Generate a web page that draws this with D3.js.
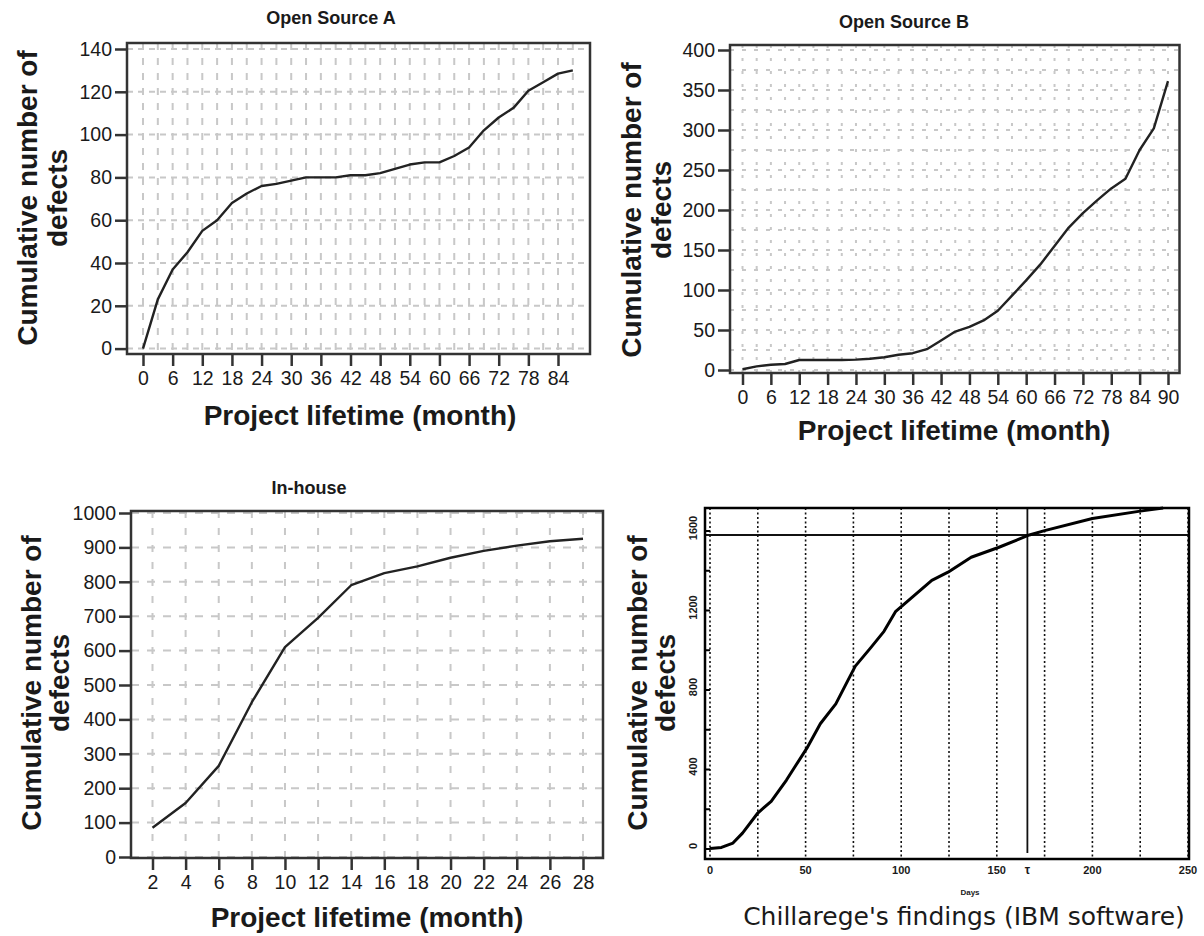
<!DOCTYPE html>
<html lang="en">
<head>
<meta charset="UTF-8">
<title>Cumulative number of defects</title>
<style>
  body { margin: 0; background: #fff; }
  svg text { font-family: "Liberation Sans", Arial, sans-serif; fill: #1a1a1a; }
  .tick text { font-size: 19.5px; }
  .tick line { stroke: #333; stroke-width: 2.5; }
  .grid { stroke: #c8c8c8; stroke-width: 2; fill: none; }
  .frame { fill: none; stroke: #333; stroke-width: 2.5; }
  .curve { fill: none; stroke: #222; stroke-width: 2.4; stroke-linejoin: round; }
  .ttl { font-weight: bold; font-size: 18px; }
  .axttl { font-weight: bold; font-size: 28px; }
</style>
</head>
<body>
<svg id="chart" width="1204" height="936"></svg>
<script src="https://d3js.org/d3.v7.min.js"></script>
<script>
// Open Source A
const monthsA = [0,3,6,9,12,15,18,21,24,27,30,33,36,39,42,45,48,51,54,57,60,63,66,69,72,75,78,81,84,87];
const defectsA = [0,23,37,45,55,60,68,72.5,76,77,78.5,80,80,80,81,81,82,84,86,87,87,90,94,102,108,112.5,120.5,124.5,128.5,130];
const xTicksA = [0,6,12,18,24,30,36,42,48,54,60,66,72,78,84];
const yTicksA = [0,20,40,60,80,100,120,140];

// Open Source B
const monthsB = [0,3,6,9,12,15,18,21,24,27,30,33,36,39,42,45,48,51,54,57,60,63,66,69,72,75,78,81,84,87,90];
const defectsB = [1,4.5,6.5,7.5,12.5,12.5,12.5,12.5,13,14,16,19,21,26,37,48,54,62,74,93,112,132,155,178,196,212,227,239,275,302,361];
const xTicksB = [0,6,12,18,24,30,36,42,48,54,60,66,72,78,84,90];
const yTicksB = [0,50,100,150,200,250,300,350,400];

// In-house
const monthsC = [2,4,6,8,10,12,14,16,18,20,22,24,26,28];
const defectsC = [85,157,265,450,610,695,790,825,845,870,890,905,918,925];
const xTicksC = [2,4,6,8,10,12,14,16,18,20,22,24,26,28];
const yTicksC = [0,100,200,300,400,500,600,700,800,900,1000];

// Chillarege (IBM software)
const daysD = [0,6,12,17,25,32,40,44.5,50.6,57.7,65.8,72,76,84,91,97,104,116,124.5,136.6,150.8,167,175,200,225,237];
const defectsD = [2,8,30,80,181,240,347,415,506,630,730,846,920,1012,1095,1194,1252,1352,1393,1468,1517,1580,1602,1663,1700,1716];
const xTicksD = [0,50,100,150,200,250];
const xGridD = [0,25,50,75,100,125,150,175,200,225,250];
const yTicksD = [0,400,800,1200,1600];
const yMinorD = [200,600,1000,1400];
const markDayD = 166;
const asymptoteD = 1580;

const svg = d3.select("#chart");

function yTitle(x1, x2, cy, lines) {
  [x1, x2].forEach((x, i) => {
    svg.append("text")
      .attr("transform", `translate(${x},${cy}) rotate(-90)`)
      .attr("text-anchor", "middle")
      .attr("dy", "0.35em")
      .attr("font-weight", "bold")
      .attr("font-size", 28)
      .text(lines[i]);
  });
}

function panel(o) {
  const [l, t, r, b] = o.frame;
  const x = d3.scaleLinear().domain(o.xDom).range(o.xRange);
  const y = d3.scaleLinear().domain(o.yDom).range(o.yRange);
  const g = svg.append("g");

  // grid
  g.selectAll(".gv").data(o.xGrid).join("line")
    .attr("class", "grid")
    .attr("x1", d => x(d)).attr("x2", d => x(d))
    .attr("y1", t).attr("y2", b)
    .attr("stroke-dasharray", o.dashV);
  g.selectAll(".gh").data(o.yGrid).join("line")
    .attr("class", "grid")
    .attr("x1", l).attr("x2", r)
    .attr("y1", d => y(d)).attr("y2", d => y(d))
    .attr("stroke-dasharray", o.dashH);

  // curve
  g.append("path")
    .datum(o.xs.map((m, i) => [m, o.ys[i]]))
    .attr("class", "curve")
    .attr("d", d3.line().x(d => x(d[0])).y(d => y(d[1])));

  g.append("rect").attr("class", "frame")
    .attr("x", l).attr("y", t).attr("width", r - l).attr("height", b - t);

  const ax = g.append("g").attr("transform", `translate(${l},0)`)
    .call(d3.axisLeft(y).tickValues(o.yTicks).tickFormat(d3.format("d")).tickSize(12).tickPadding(3));
  ax.select(".domain").remove();
  const bx = g.append("g").attr("transform", `translate(0,${b})`)
    .call(d3.axisBottom(x).tickValues(o.xTicks).tickSize(12).tickPadding(5));
  bx.select(".domain").remove();

  svg.append("text").attr("class", "ttl").attr("text-anchor", "middle")
    .attr("x", o.title[1]).attr("y", o.title[2]).text(o.title[0]);
  svg.append("text").attr("class", "axttl").attr("text-anchor", "middle")
    .attr("x", o.xTitle[0]).attr("y", o.xTitle[1]).text("Project lifetime (month)");
  yTitle(o.yTitle[0], o.yTitle[1], o.yTitle[2], ["Cumulative number of", "defects"]);
}

panel({
  frame: [127, 43, 590, 354],
  xDom: [0, 84], xRange: [143, 558],
  yDom: [0, 140], yRange: [348.6, 49],
  xGrid: d3.range(0, 88, 3), yGrid: yTicksA,
  dashV: "7,8", dashH: "6,5",
  xs: monthsA, ys: defectsA, xTicks: xTicksA, yTicks: yTicksA,
  title: ["Open Source A", 331, 24], xTitle: [360, 425], yTitle: [27, 57, 198]
});

panel({
  frame: [730, 45, 1179.5, 373],
  xDom: [0, 90], xRange: [742.5, 1168],
  yDom: [0, 400], yRange: [370, 50],
  xGrid: d3.range(0, 93, 3), yGrid: d3.range(0, 401, 25),
  dashV: "3,10", dashH: "4,8",
  xs: monthsB, ys: defectsB, xTicks: xTicksB, yTicks: yTicksB,
  title: ["Open Source B", 904, 28], xTitle: [954, 440], yTitle: [631, 661, 210]
});

panel({
  frame: [131, 511, 603, 858],
  xDom: [2, 28], xRange: [152.5, 583],
  yDom: [0, 1000], yRange: [857, 513],
  xGrid: xTicksC, yGrid: yTicksC,
  dashV: "7,10", dashH: "8,8",
  xs: monthsC, ys: defectsC, xTicks: xTicksC, yTicks: yTicksC,
  title: ["In-house", 309, 494], xTitle: [367, 927], yTitle: [31, 59, 683]
});

// Chillarege panel (scanned-figure look)
(function () {
  const [l, t, r, b] = [705, 508, 1189, 859];
  const x = d3.scaleLinear().domain([0, 250]).range([710, 1188]);
  const y = d3.scaleLinear().domain([0, 1600]).range([849, 531]);
  const g = svg.append("g");

  g.selectAll(".dv").data(xGridD).join("line")
    .attr("x1", d => x(d)).attr("x2", d => x(d))
    .attr("y1", t).attr("y2", b)
    .attr("stroke", "#111").attr("stroke-width", 1.6)
    .attr("stroke-dasharray", "2,2.5");

  g.append("line")
    .attr("x1", l).attr("x2", r)
    .attr("y1", y(asymptoteD)).attr("y2", y(asymptoteD))
    .attr("stroke", "#111").attr("stroke-width", 2);
  g.append("line")
    .attr("x1", x(markDayD)).attr("x2", x(markDayD))
    .attr("y1", t).attr("y2", y(-20))
    .attr("stroke", "#111").attr("stroke-width", 1.8);

  g.append("path")
    .datum(daysD.map((d, i) => [d, defectsD[i]]))
    .attr("fill", "none").attr("stroke", "#000").attr("stroke-width", 3)
    .attr("stroke-linejoin", "round")
    .attr("d", d3.line().x(d => x(d[0])).y(d => y(d[1])));

  g.append("rect").attr("x", l).attr("y", t).attr("width", r - l).attr("height", b - t)
    .attr("fill", "none").attr("stroke", "#000").attr("stroke-width", 2.5);

  // minor ticks on left axis
  g.selectAll(".mt").data(yTicksD.concat(yMinorD)).join("line")
    .attr("x1", l).attr("x2", l + 5)
    .attr("y1", d => y(d)).attr("y2", d => y(d))
    .attr("stroke", "#000").attr("stroke-width", 2);

  g.selectAll(".yl").data(yTicksD).join("text")
    .attr("transform", d => `translate(${l - 12},${y(d) - 3}) rotate(-90)`)
    .attr("text-anchor", "middle").attr("dy", "0.35em")
    .attr("font-size", 11).attr("font-weight", "bold")
    .text(d => d);

  g.selectAll(".xl").data(xTicksD).join("text")
    .attr("x", d => x(d)).attr("y", b + 15)
    .attr("text-anchor", "middle")
    .attr("font-size", 11).attr("font-weight", "bold")
    .text(d => d);
  g.append("text").attr("x", x(markDayD)).attr("y", b + 15)
    .attr("text-anchor", "middle").attr("font-size", 12).attr("font-weight", "bold")
    .text("τ");
  g.append("text").attr("x", 970).attr("y", 895)
    .attr("text-anchor", "middle").attr("font-size", 8).attr("font-weight", "bold")
    .text("Days");

  svg.append("text").attr("text-anchor", "middle")
    .attr("x", 964).attr("y", 925)
    .style("font-family", "'DejaVu Sans', sans-serif").attr("font-size", 25)
    .text("Chillarege's findings (IBM software)");
  yTitle(637, 665, 683, ["Cumulative number of", "defects"]);
})();
</script>
</body>
</html>
